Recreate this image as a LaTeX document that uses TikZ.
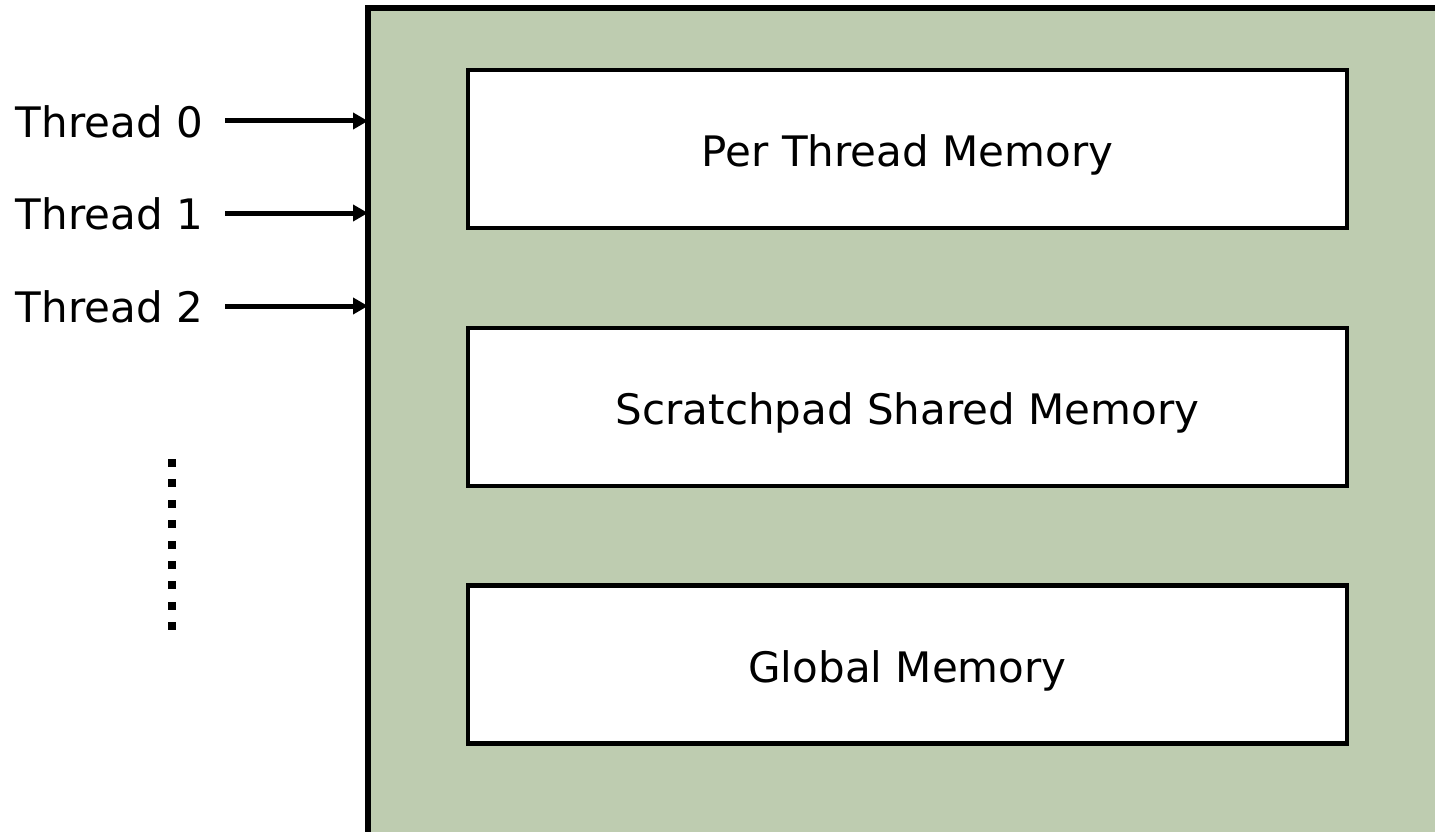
\documentclass[tikz,border=0pt]{standalone}
\usepackage{fontspec}
\setmainfont{DejaVu Sans}
\usetikzlibrary{arrows.meta}
\definecolor{panelgreen}{RGB}{190,204,176}
\tikzset{
  membox/.style={draw=black, line width=4.5pt, fill=white, minimum width=879pt, minimum height=158pt, inner sep=0pt},
  memtext/.style={anchor=base, inner sep=0pt, font=\fontsize{42pt}{50pt}\selectfont},
  thlabel/.style={anchor=base east, inner sep=0pt, font=\fontsize{42pt}{50pt}\selectfont},
  tharrow/.style={line width=5pt, -{Triangle[length=15pt,width=16pt]}}
}
\begin{document}
\begin{tikzpicture}[x=1pt,y=-1pt]
\useasboundingbox (0,0) rectangle (1435,832);
\clip (0,0) rectangle (1435,832);
\fill[white] (0,0) rectangle (1435,832);
\draw[line width=6pt, fill=panelgreen] (368,8) rectangle (1445,836);
\coordinate (edge0) at (368,121);
\coordinate (edge1) at (368,213);
\coordinate (edge2) at (368,306);
\node[membox] (per) at (907.5,149) {};
\node[membox] (scratch) at (907.5,407) {};
\node[membox] (global) at (907.5,664.5) {};
\node[memtext] (pertext) at (907.5,166) {Per Thread Memory};
\node[memtext] (scratchtext) at (907.5,424) {Scratchpad Shared Memory};
\node[memtext] (globaltext) at (907.5,682) {Global Memory};
\node[thlabel] (t0) at (203,137.5) {Thread 0};
\node[thlabel] (t1) at (203,229.5) {Thread 1};
\node[thlabel] (t2) at (203,322.5) {Thread 2};
\coordinate (s0) at (225,121);
\coordinate (s1) at (225,213);
\coordinate (s2) at (225,306);
\draw[tharrow] (s0) -- (edge0);
\draw[tharrow] (s1) -- (edge1);
\draw[tharrow] (s2) -- (edge2);
\foreach \i in {0,...,8} {
  \fill (168,{459+\i*20.4}) rectangle (176,{467+\i*20.4});
}
\end{tikzpicture}
\end{document}
